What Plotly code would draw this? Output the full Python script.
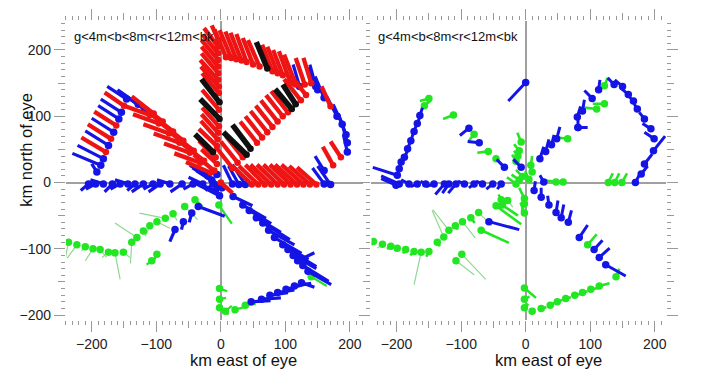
import plotly.graph_objects as go

# Each record: (x_km, y_km, stick_dx_km, stick_dy_km, colour_class)
# colour class: 't' thin green line, 'g' <4 m, 'b' 4-8 m, 'r' 8-12 m, 'k' >12 m

# ---------------- left panel ----------------
left_west_arm = [
    (-146, 126, -30, 19, 'b'), (-150, 116, -30, 20, 'r'), (-154, 106, -32, 20, 'b'),
    (-158, 96, -32, 20, 'b'), (-162, 86, -34, 21, 'r'), (-166, 76, -34, 21, 'b'),
    (-170, 66, -36, 22, 'r'), (-174, 56, -36, 22, 'b'), (-178, 46, -38, 22, 'r'),
    (-182, 36, -40, 20, 'b'), (-186, 26, -44, 18, 'b'), (-192, 16, -8, 12, 'b'),
]
left_nw_leg = [
    (-128, 118, -32, 22, 'b'), (-118, 110, -40, 28, 'b'),
    (-110, 102, -40, 14, 'r'), (-104, 104, -34, 26, 'r'), (-96, 89, -40, 14, 'r'),
    (-90, 92, -34, 26, 'r'), (-80, 74, -40, 14, 'r'), (-74, 77, -34, 26, 'r'),
    (-64, 60, -40, 14, 'r'), (-58, 63, -34, 26, 'r'), (-48, 45, -40, 14, 'r'),
    (-42, 48, -34, 26, 'r'), (-32, 30, -40, 14, 'r'), (-26, 33, -34, 26, 'r'),
    (-16, 15, -38, 16, 'r'), (-10, 18, -32, 24, 'r'),
]
left_north_leg = [
    (-4, 215, -10, 22, 'r'), (-4, 205, -22, 28, 'r'), (-4, 195, -24, 28, 'r'),
    (-4, 185, -26, 30, 'r'), (-4, 175, -26, 30, 'r'), (-4, 165, -26, 30, 'r'),
    (-4, 155, -28, 30, 'r'), (-3, 145, -28, 30, 'r'), (-3, 135, -26, 30, 'r'),
    (-2, 121, -28, 35, 'k'), (-3, 110, -26, 30, 'r'), (-2, 96, -30, 30, 'k'),
    (-3, 85, -26, 28, 'r'), (-4, 75, -26, 28, 'r'), (-5, 65, -26, 28, 'r'),
    (-6, 55, -28, 26, 'r'), (-12, 46, -28, 27, 'k'), (-8, 38, -26, 25, 'r'),
    (-6, 28, -24, 22, 'r'),
]
left_top_leg = [
    (8, 189, -18, 42, 'r'), (16, 188, -18, 42, 'r'), (24, 186, -17, 42, 'r'),
    (32, 184, -17, 42, 'r'), (40, 182, -16, 42, 'r'), (50, 178, -16, 40, 'r'),
    (60, 175, -18, 40, 'r'), (72, 172, -17, 40, 'k'), (80, 168, -16, 40, 'r'),
    (88, 165, -16, 40, 'r'), (96, 162, -15, 38, 'r'), (108, 150, -18, 48, 'r'),
    (116, 148, -18, 45, 'r'), (122, 145, -10, 33, 'b'), (130, 148, -14, 40, 'r'),
    (140, 150, -12, 38, 'r'), (147, 145, -9, 33, 'b'),
]
left_ne_leg = [
    (18, 22, -26, 32, 'r'), (26, 30, -26, 32, 'r'), (34, 38, -26, 32, 'r'),
    (40, 42, -36, 34, 'k'), (46, 51, -28, 36, 'k'), (56, 60, -26, 32, 'r'),
    (64, 68, -26, 32, 'r'), (72, 76, -26, 32, 'r'), (80, 84, -26, 32, 'r'),
    (88, 92, -26, 32, 'r'), (96, 100, -26, 32, 'r'), (110, 111, -26, 30, 'k'),
    (116, 118, -20, 30, 'k'), (104, 106, -26, 32, 'r'), (124, 124, -26, 32, 'r'),
    (132, 132, -24, 30, 'r'),
]
left_east_column = [
    (150, 140, -14, 34, 'b'), (160, 128, -14, 32, 'b'), (170, 115, -14, 30, 'r'),
    (180, 100, -16, 30, 'b'), (188, 88, -14, 30, 'b'), (194, 72, -12, 32, 'b'),
    (196, 60, -8, 28, 'b'), (196, 46, -6, 26, 'b'), (186, 38, -16, 24, 'r'),
    (174, 26, -16, 28, 'r'), (160, 18, -14, 22, 'b'),
]
left_east_leg = [
    (18, -2, -14, 28, 'b'), (28, -3, -16, 28, 'b'), (38, -3, -20, 30, 'b'),
    (48, -3, -30, 28, 'r'), (58, -3, -30, 28, 'r'), (68, -3, -30, 30, 'r'),
    (78, -3, -32, 30, 'r'), (88, -3, -32, 30, 'r'), (98, -3, -32, 30, 'r'),
    (108, -3, -32, 30, 'r'), (118, -3, -34, 30, 'r'), (128, -3, -34, 30, 'r'),
    (138, -3, -32, 28, 'r'), (148, -3, -30, 26, 'r'), (160, -2, -18, 24, 'b'),
    (170, -3, -20, 28, 'b'),
]
left_west_leg = [
    (-205, -2, -12, -10, 'b'), (-194, -2, -15, -8, 'b'), (-182, -2, -20, 6, 'b'),
    (-168, -2, -12, -12, 'b'), (-156, -2, -15, -8, 'b'), (-144, -2, -20, 6, 'b'),
    (-133, -2, -12, -10, 'b'), (-120, -2, -18, -12, 'b'), (-105, -2, -15, -8, 'b'),
    (-94, -2, -18, -12, 'b'), (-79, -2, -20, 6, 'b'), (-60, -2, -18, -12, 'b'),
    (-43, -2, -15, -8, 'b'), (-28, -2, -22, 10, 'b'), (-12, -2, -12, -10, 'b'),
]
left_eye_cluster = [
    (-4, -4, -34, 22, 'b'), (-8, -12, -38, 14, 'b'), (-2, -20, -40, 20, 'b'),
    (-14, 4, -30, 18, 'b'), (-20, 10, -28, 16, 'b'), (-6, 12, -22, 22, 'b'),
    (2, -8, -30, 24, 'b'), (0, 0, 18, -16, 'r'),
]
left_se_leg = [
    (19, -21, 30, -14, 'b'), (34, -34, 36, -20, 'b'), (44, -42, 34, -20, 'b'),
    (55, -53, 38, -22, 'b'), (65, -61, 42, -25, 'b'), (74, -72, 40, -22, 'b'),
    (83, -83, 42, -24, 'b'), (96, -94, 40, -22, 'b'), (104, -101, 44, -26, 'b'),
    (112, -110, 36, -20, 'b'), (119, -118, 26, 12, 'b'), (127, -125, 40, -24, 'b'),
    (135, -134, 36, -20, 'b'), (140, -142, 24, -14, 'g'),
]
left_south_leg = [
    (-2, -160, 12, -4, 'g'), (-2, -176, 10, 2, 'g'), (-2, -189, 14, -10, 'g'),
    (7, -194, 10, 8, 'g'), (22, -192, 14, 4, 'g'), (38, -185, 16, 2, 'g'),
    (47, -180, 30, 2, 'b'), (63, -176, 30, 2, 'b'), (76, -170, 28, 4, 'b'),
    (88, -166, 26, 4, 'b'), (101, -161, 24, 6, 'b'), (114, -156, 26, 4, 'b'),
    (125, -151, 20, -7, 'b'),
]
left_sw_leg = [
    (-40, -26, 12, -10, 'g'), (-56, -36, 20, -20, 't'), (-74, -47, 6, -10, 't'),
    (-86, -54, -40, 8, 't'), (-99, -59, 20, -10, 't'), (-110, -65, -6, -14, 't'),
    (-120, -73, 4, -8, 't'), (-130, -83, -34, 22, 't'), (-138, -90, -2, -32, 't'),
    (-151, -105, 10, -8, 't'), (-164, -106, 8, -40, 't'), (-174, -105, -10, -8, 't'),
    (-187, -101, 10, -12, 't'), (-198, -100, -12, -18, 't'), (-210, -97, -6, -6, 't'),
    (-223, -94, -15, -20, 't'), (-236, -90, -6, -30, 't'),
    (-3, -34, 20, -28, 'g'), (-99, -108, -4, -8, 'g'), (-107, -118, -8, -6, 'g'),
    (-45, -46, -4, -14, 'b'), (-58, -59, -3, -12, 'b'), (-71, -71, -8, -18, 'b'),
    (-35, -36, 41, -15, 'b'),
]

# ---------------- right panel ----------------
right_north = [(0, 151, -27, -28, 'b')]
right_west_arm = [
    (-199, 11, -38, 12, 'b'), (-196, 21, 3, 10, 'b'), (-193, 31, 4, 8, 'b'),
    (-188, 38, 5, 10, 'b'), (-183, 51, 4, 10, 'b'), (-178, 63, 4, 12, 'b'),
    (-173, 77, 5, 14, 'b'), (-168, 89, 4, 10, 'b'), (-164, 101, 4, 12, 'b'),
    (-157, 116, 10, 8, 'g'), (-150, 127, -14, -4, 'g'),
]
right_middle = [
    (-112, 102, -16, -6, 'g'), (-88, 82, -14, -11, 'b'), (-80, 73, -8, -10, 'g'),
    (-72, 60, -18, 2, 'b'), (-58, 47, -17, -2, 'g'), (-46, 36, 10, -10, 'g'),
    (-33, 23, -12, 12, 'b'),
]
right_eye = [
    (-7, 61, -6, 14, 'g'), (-10, 48, -8, 10, 'g'), (-12, 40, -6, 8, 'g'),
    (-15, 32, -6, 10, 'g'), (-7, 23, -12, 12, 'b'), (8, 26, 2, 14, 'g'),
    (10, 16, -4, 12, 'g'), (-5, 9, -10, 10, 'g'), (-10, 4, -12, 8, 'g'),
    (5, 5, -6, 12, 'g'), (-15, -2, -14, 10, 'g'), (-2, -24, -8, 16, 'g'),
    (-2, -32, -4, -12, 'g'), (-2, -46, -6, 16, 'g'),
    (28, 1, -6, 10, 'b'), (47, 1, -16, 2, 'g'), (58, 1, -10, 0, 'g'),
]
right_ne_leg = [
    (22, 36, 6, 18, 'b'), (31, 47, 5, 18, 'b'), (40, 57, 4, 15, 'b'),
    (48, 66, 5, 18, 'b'), (65, 66, -16, 2, 'g'), (81, 83, 0, 18, 'b'),
    (81, 83, 15, 0, 'b'), (80, 99, 5, 16, 'b'), (88, 108, 3, 17, 'b'),
    (103, 127, -12, 12, 'b'), (113, 140, 2, 15, 'b'), (110, 111, -19, 2, 'g'),
    (122, 119, -18, 0, 'g'), (122, 146, 5, 12, 'g'), (137, 148, -10, 10, 'b'),
    (150, 145, -12, 10, 'b'), (159, 133, -12, 10, 'b'), (167, 123, -8, 8, 'b'),
    (173, 111, -5, 8, 'b'), (184, 96, -8, 10, 'b'), (194, 81, -13, 8, 'b'),
    (199, 66, -15, 10, 'b'), (198, 48, 18, 22, 'b'), (184, 28, 12, 15, 'b'),
    (179, 13, 10, 12, 'b'), (170, 0, 8, 15, 'b'),
    (128, 0, 7, 14, 'g'), (138, 0, 7, 14, 'g'), (149, 0, 8, 14, 'g'),
]
right_west_leg = [
    (-196, -2, -28, 12, 'b'), (-181, -2, -12, 6, 'b'), (-168, -2, -10, -4, 'b'),
    (-155, -2, -8, 4, 'b'), (-142, -2, -12, -4, 'b'), (-126, -2, -14, -16, 'b'),
    (-119, -2, -10, -14, 'b'), (-108, -2, -12, -14, 'b'), (-95, -2, -10, 4, 'b'),
    (-80, -2, -8, -6, 'b'), (-67, -2, -10, 4, 'b'), (-51, -2, -10, -8, 'b'),
    (-38, -2, -6, -8, 'b'), (-201, -4, -23, 10, 'b'),
]
right_se_leg = [
    (13, -12, 2, 14, 'b'), (24, -22, 0, 14, 'b'), (36, -34, -2, 14, 'b'),
    (47, -45, 3, 18, 'b'), (55, -53, 4, 20, 'b'), (66, -60, 5, 18, 'b'),
    (83, -83, 13, 19, 'b'), (96, -94, 14, 16, 'g'), (106, -101, 13, 14, 'b'),
    (114, -113, 16, 14, 'b'), (124, -124, 31, -17, 'b'), (140, -142, 5, 12, 'g'),
]
right_south_leg = [
    (-2, -159, 18, -15, 'g'), (-2, -176, 8, 4, 'g'), (-2, -189, 6, 6, 'g'),
    (10, -194, 4, 4, 'g'), (24, -190, 8, 2, 'g'), (38, -185, 8, 4, 'g'),
    (49, -180, 8, 3, 'g'), (62, -175, 8, 2, 'g'), (76, -170, 8, 2, 'g'),
    (88, -166, 8, 2, 'g'), (101, -161, 12, 2, 'g'), (114, -156, 16, 4, 'g'),
]
right_sw_leg = [
    (-28, -27, 8, -10, 't'), (-38, -26, -4, 8, 'g'), (-36, -34, 24, -16, 'g'),
    (-46, -35, 39, -28, 'g'), (-73, -45, 20, -20, 't'), (-85, -53, 6, -8, 'g'),
    (-98, -59, 20, -25, 't'), (-109, -65, 4, -6, 'g'), (-119, -72, -25, 31, 't'),
    (-127, -82, -18, 40, 't'), (-137, -90, 4, -6, 'g'), (-150, -104, -4, -8, 'g'),
    (-162, -105, -11, -49, 't'), (-173, -104, -6, -6, 'g'), (-186, -101, -4, -6, 'g'),
    (-199, -99, -4, -4, 'g'), (-209, -96, -6, -4, 'g'), (-222, -93, -8, -6, 't'),
    (-236, -89, -10, -12, 't'), (-69, -72, 43, -19, 'g'), (-99, -108, 37, -38, 't'),
    (-108, -118, 28, -21, 't'), (-57, -59, 47, -12, 'b'),
]

left_panel = (left_west_arm + left_nw_leg + left_north_leg + left_top_leg + left_ne_leg
              + left_east_column + left_east_leg + left_west_leg + left_eye_cluster
              + left_se_leg + left_south_leg + left_sw_leg)
right_panel = (right_north + right_west_arm + right_middle + right_eye + right_ne_leg
               + right_west_leg + right_se_leg + right_south_leg + right_sw_leg)

major_ticks = [-200, -100, 0, 100, 200]
legend_label = "g<4m<b<8m<r<12m<bk"
x_title = "km east of eye"
y_title = "km north of eye"

COL = {'t': '#8fd88f', 'g': '#22e622', 'b': '#1414e6', 'r': '#ee1414', 'k': '#101010'}
DOT = {'t': '#22e622', 'g': '#22e622', 'b': '#1414e6', 'r': '#ee1414', 'k': '#101010'}
W_LEFT = {'t': 1.2, 'g': 2.2, 'b': 3.2, 'r': 4.3, 'k': 5.5}
W_RIGHT = {'t': 1.2, 'g': 2.6, 'b': 3.0, 'r': 4.3, 'k': 5.5}

fig = go.Figure()


def add_panel(data, xa, ya, widths):
    for cls in ['t', 'g', 'b', 'r', 'k']:
        recs = [d for d in data if d[4] == cls]
        if not recs:
            continue
        lx, ly = [], []
        for x, y, dx, dy, _ in recs:
            lx += [x, x + dx, None]
            ly += [y, y + dy, None]
        fig.add_trace(go.Scatter(x=lx, y=ly, mode='lines', xaxis=xa, yaxis=ya,
                                 line=dict(color=COL[cls], width=widths[cls]),
                                 hoverinfo='skip', showlegend=False))
        if cls in ('g', 'b', 'r', 'k'):
            dots = [d for d in data if d[4] == cls or (cls == 'g' and d[4] == 't')]
            fig.add_trace(go.Scatter(x=[d[0] for d in dots], y=[d[1] for d in dots],
                                     mode='markers', xaxis=xa, yaxis=ya,
                                     marker=dict(color=DOT[cls], size=7.5 if cls in 'gb' else 6.5,
                                                 line=dict(width=0)),
                                     hoverinfo='skip', showlegend=False))


add_panel(left_panel, 'x', 'y', W_LEFT)
add_panel(right_panel, 'x2', 'y2', W_RIGHT)

# dummy traces so the overlay tick axes are drawn
for xa, ya in [('x3', 'y'), ('x', 'y3'), ('x4', 'y2'), ('x2', 'y4')]:
    fig.add_trace(go.Scatter(x=[None], y=[None], xaxis=xa, yaxis=ya, mode='markers',
                             hoverinfo='skip', showlegend=False))

TICKC = '#999999'
FONT = 'Liberation Sans, Arial, sans-serif'
XL = [-240, 221]
XR = [-239, 217.5]
YR = [-208, 244]
YDOM = [1 - 323 / 375, 1 - 21 / 375]


def main_axis(rng, labels, mirror, domain=None, anchor=None):
    d = dict(range=rng, showgrid=False, zeroline=True, zerolinecolor='#a0a0a0',
             zerolinewidth=1.5, showline=False, ticks='outside', tickcolor=TICKC,
             tickwidth=1, ticklen=11, tickmode='array', tickvals=major_ticks,
             showticklabels=labels, mirror=mirror, layer='below traces',
             minor=dict(ticks='outside', dtick=10, tick0=0, ticklen=4, tickcolor=TICKC,
                        tickwidth=1),
             tickfont=dict(family=FONT, size=14, color='#222222'), fixedrange=True)
    if domain is not None:
        d['domain'] = domain
    if anchor is not None:
        d['anchor'] = anchor
    return d


def mid_axis(rng, overlay, anchor, mirror):
    return dict(range=rng, overlaying=overlay, anchor=anchor, showgrid=False,
                zeroline=False, showline=False, ticks='outside', tickcolor=TICKC,
                tickwidth=1, ticklen=7, tickmode='array', tickvals=[-150, -50, 50, 150],
                showticklabels=False, mirror=mirror, fixedrange=True)


fig.update_layout(
    width=702, height=375, margin=dict(l=0, r=0, t=0, b=0),
    paper_bgcolor='white', plot_bgcolor='white', showlegend=False,
    xaxis=main_axis(XL, True, 'ticks', [66 / 702, 364 / 702], 'y'),
    yaxis=main_axis(YR, True, False, YDOM, 'x'),
    xaxis2=main_axis(XR, True, 'ticks', [372 / 702, 667 / 702], 'y2'),
    yaxis2=main_axis(YR, False, 'ticks', YDOM, 'x2'),
    xaxis3=mid_axis(XL, 'x', 'y', 'ticks'),
    yaxis3=mid_axis(YR, 'y', 'x', False),
    xaxis4=mid_axis(XR, 'x2', 'y2', 'ticks'),
    yaxis4=mid_axis(YR, 'y2', 'x2', 'ticks'),
)

ann_font = dict(family=FONT, color='#111111')
for xc in (244, 549):
    fig.add_annotation(x=xc / 702, y=1 - 363 / 375, xref='paper', yref='paper',
                       text=x_title, showarrow=False, xanchor='center', yanchor='middle',
                       font=dict(size=16.5, **ann_font))
fig.add_annotation(x=26 / 702, y=1 - 151 / 375, xref='paper', yref='paper',
                   text=y_title, showarrow=False, textangle=-90,
                   xanchor='center', yanchor='middle', font=dict(size=16.5, **ann_font))
for xl in (72, 377):
    fig.add_annotation(x=xl / 702, y=1 - 37 / 375, xref='paper', yref='paper',
                       text=legend_label, showarrow=False, xanchor='left', yanchor='middle',
                       font=dict(size=13, **ann_font))

fig.write_html("out.html")
